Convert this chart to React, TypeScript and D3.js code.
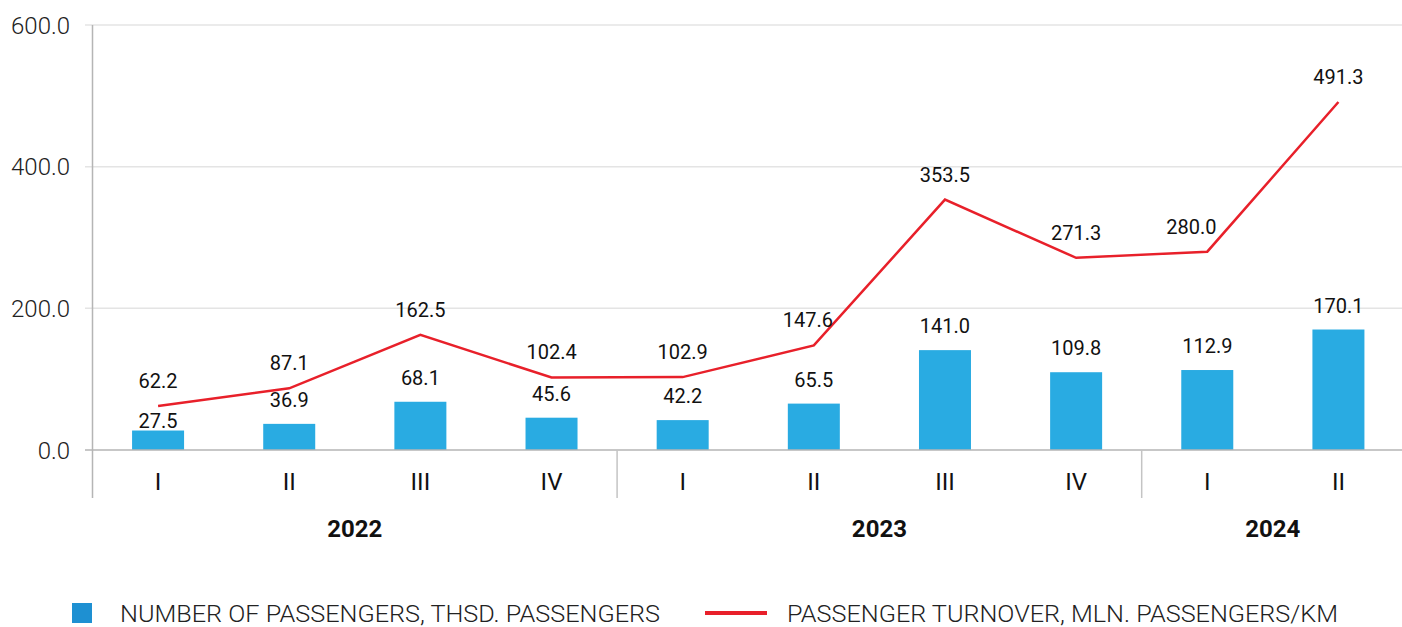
import * as d3 from "d3";
import { useEffect, useRef } from "react";

const quarters = ["I", "II", "III", "IV", "I", "II", "III", "IV", "I", "II"];
const years = ["2022", "2023", "2024"];
const yearSpans = [4, 4, 2];
const passengers = [27.5, 36.9, 68.1, 45.6, 42.2, 65.5, 141.0, 109.8, 112.9, 170.1];
const turnover = [62.2, 87.1, 162.5, 102.4, 102.9, 147.6, 353.5, 271.3, 280.0, 491.3];
const yTicks = [0, 200, 400, 600];

// label nudges so labels clear the line (dx for line labels, dy for bar labels)
const lineLabelShift = [0, 0, 0, 0, 0, -6, 0, 0, -16, 0];
const barLabelDrop = [14, 0, 0, 0, 0, 0, 0, 0, 0, 0];

const legendBars = "NUMBER OF PASSENGERS, THSD. PASSENGERS";
const legendLine = "PASSENGER TURNOVER, MLN. PASSENGERS/KM";

export default function App() {
  const ref = useRef<SVGSVGElement>(null);

  useEffect(() => {
    const width = 1402;
    const marginLeft = 92.5;
    const marginTop = 25;
    const baseY = 450;
    const font = "Roboto, 'Noto Sans', sans-serif";

    const svg = d3.select(ref.current);
    svg.selectAll("*").remove();

    const idx = quarters.map((_, i) => String(i));
    const x = d3.scaleBand().domain(idx).range([marginLeft, 1404]);
    const step = x.step();
    const bandStart = (i: number) => marginLeft + i * step;
    const cx = (i: number) => (x(String(i)) ?? 0) + x.bandwidth() / 2;

    const y = d3.scaleLinear().domain([0, 600]).range([baseY, marginTop]);

    // gridlines
    svg.append("g").selectAll("line").data(yTicks.filter(d => d > 0)).join("line")
      .attr("x1", 85).attr("x2", width)
      .attr("y1", d => y(d)).attr("y2", d => y(d))
      .attr("stroke", "#e4e4e4").attr("stroke-width", 1.5);

    // y tick labels
    svg.append("g").selectAll("text").data(yTicks).join("text")
      .attr("x", 70).attr("y", d => y(d))
      .attr("dy", "0.36em")
      .attr("text-anchor", "end")
      .attr("font-family", font).attr("font-weight", 300)
      .attr("font-size", 24).attr("fill", "#222")
      .text(d => d3.format(".1f")(d));

    // bars
    svg.append("g").selectAll("rect").data(passengers).join("rect")
      .attr("x", (_, i) => cx(i) - 26)
      .attr("width", 52)
      .attr("y", d => y(d))
      .attr("height", d => baseY - y(d))
      .attr("fill", "#29abe2");

    // baseline
    svg.append("line")
      .attr("x1", 85).attr("x2", width)
      .attr("y1", baseY).attr("y2", baseY)
      .attr("stroke", "#b5b5b5").attr("stroke-width", 1.5);

    // y axis line
    svg.append("line")
      .attr("x1", marginLeft).attr("x2", marginLeft)
      .attr("y1", marginTop).attr("y2", 498)
      .attr("stroke", "#b5b5b5").attr("stroke-width", 1.5);

    // year separators + year labels
    let acc = 0;
    yearSpans.forEach((s, k) => {
      const start = acc;
      acc += s;
      if (k < yearSpans.length - 1) {
        svg.append("line")
          .attr("x1", bandStart(acc)).attr("x2", bandStart(acc))
          .attr("y1", baseY).attr("y2", 498)
          .attr("stroke", "#c4c4c4").attr("stroke-width", 1.5);
      }
      const mid = (bandStart(start) + Math.min(bandStart(acc), 1404)) / 2;
      svg.append("text")
        .attr("x", mid).attr("y", 537)
        .attr("text-anchor", "middle")
        .attr("font-family", font).attr("font-weight", 700)
        .attr("font-size", 24).attr("fill", "#111")
        .text(years[k]);
    });

    // quarter labels
    svg.append("g").selectAll("text").data(quarters).join("text")
      .attr("x", (_, i) => cx(i)).attr("y", 490)
      .attr("text-anchor", "middle")
      .attr("font-family", font)
      .attr("font-size", 24).attr("fill", "#111")
      .text(d => d);

    // line
    const line = d3.line<number>().x((_, i) => cx(i)).y(d => y(d));
    svg.append("path")
      .datum(turnover)
      .attr("d", line)
      .attr("fill", "none")
      .attr("stroke", "#e8202a")
      .attr("stroke-width", 2.5);

    // bar labels
    svg.append("g").selectAll("text").data(passengers).join("text")
      .attr("x", (_, i) => cx(i)).attr("y", (d, i) => y(d) - 17 + barLabelDrop[i])
      .attr("text-anchor", "middle")
      .attr("font-family", font).attr("font-size", 20).attr("fill", "#111")
      .text(d => d3.format(".1f")(d));

    // line labels
    svg.append("g").selectAll("text").data(turnover).join("text")
      .attr("x", (_, i) => cx(i) + lineLabelShift[i]).attr("y", d => y(d) - 18)
      .attr("text-anchor", "middle")
      .attr("font-family", font).attr("font-size", 20).attr("fill", "#111")
      .text(d => d3.format(".1f")(d));

    // legend
    const lg = svg.append("g");
    lg.append("rect").attr("x", 72).attr("y", 603).attr("width", 20).attr("height", 20).attr("fill", "#1e90d2");
    lg.append("text").attr("x", 120).attr("y", 622)
      .attr("font-family", font).attr("font-weight", 300).attr("font-size", 24).attr("fill", "#222")
      .attr("textLength", 540).attr("lengthAdjust", "spacingAndGlyphs")
      .text(legendBars);
    lg.append("line").attr("x1", 705).attr("x2", 767).attr("y1", 613).attr("y2", 613)
      .attr("stroke", "#e8202a").attr("stroke-width", 4);
    lg.append("text").attr("x", 787).attr("y", 622)
      .attr("font-family", font).attr("font-weight", 300).attr("font-size", 24).attr("fill", "#222")
      .attr("textLength", 551).attr("lengthAdjust", "spacingAndGlyphs")
      .text(legendLine);
  }, []);

  return (
    <svg ref={ref} width={1402} height={627}
      style={{ position: "absolute", left: 0, top: 0, display: "block", background: "#fff" }} />
  );
}
